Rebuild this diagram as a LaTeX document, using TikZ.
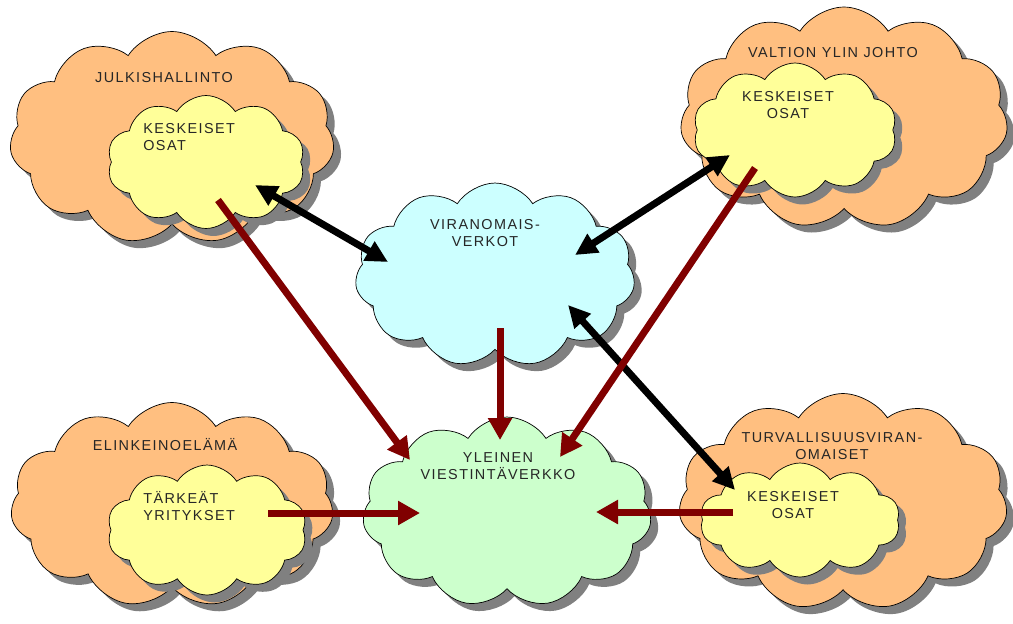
\documentclass[tikz,border=0pt]{standalone}
\usepackage{fontspec}
\setmainfont{Liberation Sans}[LetterSpace=10]
\usetikzlibrary{shapes.symbols, arrows.meta, shadows, calc}
\definecolor{cOrg}{RGB}{255, 191, 128}
\definecolor{cCore}{RGB}{255, 255, 153}
\definecolor{cAuth}{RGB}{204, 255, 255}
\definecolor{cPub}{RGB}{204, 255, 204}
\definecolor{cRed}{RGB}{128, 0, 0}
\tikzset{
    font=\fontsize{8.2}{10}\selectfont,
    % pilvet
    cloudNode/.style={
        cloud, cloud puffs=11, cloud puff arc=115, cloud ignores aspect,
        draw=black, thin, inner sep=0pt,
        drop shadow={shadow xshift=0.15cm, shadow yshift=-0.15cm, fill=black!50, opacity=1}
    },
    orgCloud/.style={cloudNode, fill=cOrg},
    coreCloud/.style={cloudNode, fill=cCore, cloud puffs=10},
    % tekstit
    txtNode/.style={inner sep=0pt, align=center, text=black!85},
    % nuolet
    linkArrow/.style={
        {Triangle[length=0.44cm, width=0.42cm]}-{Triangle[length=0.44cm, width=0.42cm]},
        line width=0.14cm, draw=black
    },
    feedArrow/.style={
        -{Triangle[length=0.44cm, width=0.46cm]}, line width=0.14cm, draw=cRed
    }
}

\begin{document}
\begin{tikzpicture}[x=0.02cm, y=-0.02cm]
	\useasboundingbox (0,0) rectangle (1013,623);

	% 1. Julkishallinto
	\node[orgCloud, minimum width=6.5cm, minimum height=4.26cm] (jhOut) at (172,138) {};
	\node[coreCloud, minimum width=3.96cm, minimum height=2.66cm] (jhIn) at (206,162) {};
	\node[txtNode] (jhTitle) at (164,78) {JULKISHALLINTO};
	\node[txtNode, align=left, anchor=west] (jhCore) at (143,137) {KESKEISET\\OSAT};

	% 2. Valtion ylin johto
	\node[orgCloud, minimum width=6.56cm, minimum height=4.44cm] (vjOut) at (844,118) {};
	\node[coreCloud, minimum width=4.08cm, minimum height=2.68cm] (vjIn) at (795,130) {};
	\node[txtNode] (vjTitle) at (833,53) {VALTION YLIN JOHTO};
	\node[txtNode] (vjCore) at (788,105) {KESKEISET\\OSAT};

	% 3. Elinkeinoelämä
	\node[orgCloud, minimum width=6.46cm, minimum height=4.1cm] (elOut) at (172,505) {};
	\node[coreCloud, minimum width=4.0cm, minimum height=2.6cm] (elIn) at (207,530) {};
	\node[txtNode] (elTitle) at (165,445) {ELINKEINOELÄMÄ};
	\node[txtNode, align=left, anchor=west] (elCore) at (143,506) {TÄRKEÄT\\YRITYKSET};

	% 4. Turvallisuusviranomaiset
	\node[orgCloud, minimum width=6.58cm, minimum height=4.34cm] (tvOut) at (843,502) {};
	\node[coreCloud, minimum width=4.0cm, minimum height=2.28cm] (tvIn) at (800,520) {};
	\node[txtNode] (tvTitle) at (832,446) {TURVALLISUUSVIRAN-\\OMAISET};
	\node[txtNode] (tvCore) at (793,505) {KESKEISET\\OSAT};

	% 5. Verkot
	\node[cloudNode, fill=cAuth, minimum width=5.6cm, minimum height=3.68cm] (vvCloud) at (495,275) {};
	\node[txtNode] (vvTxt) at (485,233) {VIRANOMAIS-\\VERKOT};
	\node[cloudNode, fill=cPub, minimum width=5.78cm, minimum height=3.8cm] (yvCloud) at (507,512) {};
	\node[txtNode] (yvTxt) at (498,466) {YLEINEN\\VIESTINTÄVERKKO};

	% 6. Nuolet
	\draw[linkArrow] ($(jhIn)+(49,23)$) -- ($(vvCloud)+(-107,-13)$);
	\draw[linkArrow] ($(vvCloud)+(80,-20)$) -- ($(vjIn)+(-65,25)$);
	\draw[linkArrow] ($(vvCloud)+(73,30)$) -- ($(tvIn)+(-65,-30)$);

	\draw[feedArrow] ($(jhIn)+(12,38)$) -- ($(yvCloud)+(-97,-52)$);
	\draw[feedArrow] ($(vvCloud)+(5,53)$) -- ($(yvCloud)+(-7,-72)$);
	\draw[feedArrow] ($(vjIn)+(-40,38)$) -- ($(yvCloud)+(53,-55)$);
	\draw[feedArrow] ($(elIn)+(61,-17)$) -- ($(yvCloud)+(-87,1)$);
	\draw[feedArrow] ($(tvIn)+(-67,-8)$) -- ($(yvCloud)+(89,0)$);

\end{tikzpicture}
\end{document}
